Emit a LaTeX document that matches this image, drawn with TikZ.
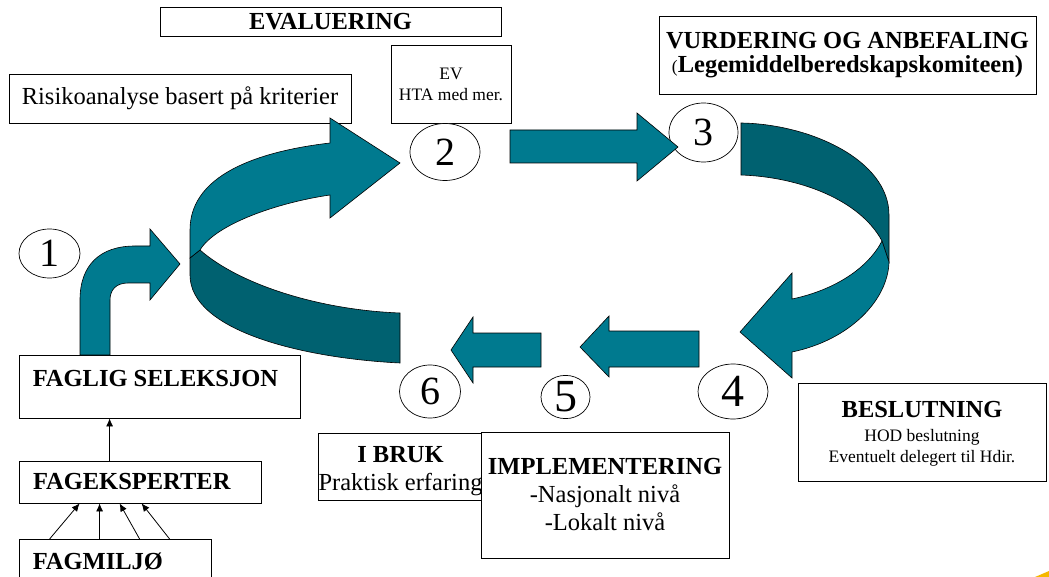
\documentclass[tikz,border=0pt]{standalone}
\usepackage{fontspec}
\setmainfont{Liberation Serif}
\usepackage{tikz}
\usetikzlibrary{shapes.geometric,positioning,arrows.meta}
\definecolor{tealfront}{RGB}{0,122,143}
\definecolor{tealback}{RGB}{0,97,112}
\definecolor{cornermark}{RGB}{245,184,0}
\tikzstyle{stepbox} = [draw=black, line width=0.8pt, fill=white, rectangle, inner sep=0pt, align=center]
\tikzstyle{headfont} = [font=\fontsize{24.5}{24}\selectfont\bfseries]
\tikzstyle{bodyfont} = [font=\fontsize{24.5}{28}\selectfont]
\tikzstyle{smallfont} = [font=\fontsize{17.5}{21}\selectfont]
\tikzstyle{numcircle} = [draw=black, line width=0.7pt, fill=white, ellipse, inner sep=0pt, font=\fontsize{40}{40}\selectfont]
\tikzstyle{bigarrow} = [draw=black, line width=0.6pt, fill=tealfront]
\tikzstyle{backarrow} = [draw=black, line width=0.6pt, fill=tealback]
\tikzstyle{thinarrow} = [-{Latex[length=8pt,width=7pt]}, line width=0.8pt]
\begin{document}
\begin{tikzpicture}[x=1pt,y=-1pt]
    \useasboundingbox (0,0) rectangle (1049,577);
    \clip (0,0) rectangle (1049,577);
    \fill[white] (0,0) rectangle (1049,577);

    \node [stepbox, headfont, minimum width=341pt, minimum height=29pt] (evaluering) at (330.5,21.5) {EVALUERING};
    \node [stepbox, smallfont, minimum width=120pt, minimum height=78pt] (ev) at (451,84) {EV\\HTA med mer.};
    \node [stepbox, bodyfont, minimum width=342pt, minimum height=49pt] (risiko) at (180,98.5) {Risikoanalyse basert på kriterier};
    \node [stepbox, headfont, minimum width=377pt, minimum height=78pt] (vurdering) at (847.5,55)
        {VURDERING OG ANBEFALING\\{\mdseries\fontsize{17.5}{17.5}\selectfont(}Legemiddelberedskapskomiteen)};

    \node [stepbox, minimum width=281pt, minimum height=63pt] (faglig) at (159.5,386.5) {};
    \node [headfont, inner sep=0pt, below right=15pt and 14pt of faglig.north west] (fagligtxt) {FAGLIG SELEKSJON};
    \node [stepbox, headfont, text width=214pt, align=left, inner xsep=14pt, minimum height=42pt] (eksp) at (140,482) {FAGEKSPERTER};
    \node [stepbox, anchor=north, minimum width=192pt, minimum height=60pt] (miljo) at (115,539) {};
    \node [headfont, inner sep=0pt, below right=14pt and 14pt of miljo.north west] (miljotxt) {FAGMILJØ};

    \node [stepbox, bodyfont, minimum width=161pt, minimum height=67pt] (bruk) at (400.5,466.5)
        {{\bfseries\rule{0pt}{26pt}I BRUK}\\Praktisk erfaring};
    \node [stepbox, bodyfont, minimum width=248pt, minimum height=126pt] (impl) at (605,495)
        {{\bfseries IMPLEMENTERING}\\-Nasjonalt nivå\\-Lokalt nivå};
    \node [stepbox, smallfont, minimum width=248pt, minimum height=98pt] (beslutning) at (922,432)
        {{\fontsize{24.5}{24}\selectfont\bfseries\rule{0pt}{20pt}BESLUTNING}\\[3pt]HOD beslutning\\Eventuelt delegert til Hdir.};

    \node [numcircle, minimum width=61pt, minimum height=49pt] (n1) at (49.5,253.5) {1};
    \node [numcircle, minimum width=70pt, minimum height=57pt] (n2) at (445,152) {2};
    \node [numcircle, minimum width=69pt, minimum height=59pt] (n3) at (703.5,132.5) {3};
    \node [numcircle, minimum width=70pt, minimum height=55pt, font=\fontsize{46}{46}\selectfont] (n4) at (733,391.5) {4};
    \node [numcircle, minimum width=49pt, minimum height=40pt, font=\fontsize{46}{46}\selectfont] (n5) at (565.5,397) {5};
    \node [numcircle, minimum width=61pt, minimum height=53pt] (n6) at (430,391.5) {6};

    \draw[bigarrow] (80,355) -- (80,300) .. controls (80,265) and (100,246) .. (135,246) -- (150,246) -- (150,229) -- (180,264)
        -- (150,300) -- (150,283) -- (128,283) .. controls (116,283) and (110,290) .. (110,300) -- (110,355) -- cycle;

    \draw[backarrow] (200,250) .. controls (240,285) and (320,310) .. (400,313) -- (400,363)
        .. controls (300,358) and (190,330) .. (190,275) -- (190,258) -- cycle;
    \draw[bigarrow] (190,258) -- (190,230) .. controls (190,170) and (270,150) .. (330,143) -- (330,118) -- (400,163)
        -- (330,218) -- (330,195) .. controls (275,203) and (215,225) .. (200,250) -- cycle;

    \draw[bigarrow] (510,130) -- (637,130) -- (637,113) -- (678,147) -- (637,181) -- (637,163) -- (510,163) -- cycle;

    \draw[backarrow] (741,123) .. controls (810,124) and (889,160) .. (889,215) -- (889,262) -- (882,241)
        .. controls (860,200) and (800,177) .. (741,175) -- cycle;
    \draw[bigarrow] (882,241) -- (889,262) .. controls (888,300) and (850,340) .. (792,352) -- (792,378) -- (740,332)
        -- (792,273) -- (792,299) .. controls (835,290) and (868,268) .. (882,241) -- cycle;

    \draw[bigarrow] (699,331) -- (609,331) -- (609,316) -- (580,347) -- (609,377) -- (609,367) -- (699,367) -- cycle;
    \draw[bigarrow] (541,333) -- (473,333) -- (473,317) -- (451,350) -- (473,383) -- (473,367) -- (541,367) -- cycle;

    \draw[thinarrow] ([xshift=91pt]eksp.north west) -- ([xshift=91pt]faglig.south west);
    \foreach \a/\b in {31/61, 81/81, 121/101, 151/123}
        \draw[thinarrow] ([xshift=\a pt]miljo.north west) -- ([xshift=\b pt]eksp.south west);

    \fill[cornermark] (1035,577) -- (1049,571) -- (1049,577) -- cycle;
\end{tikzpicture}
\end{document}
